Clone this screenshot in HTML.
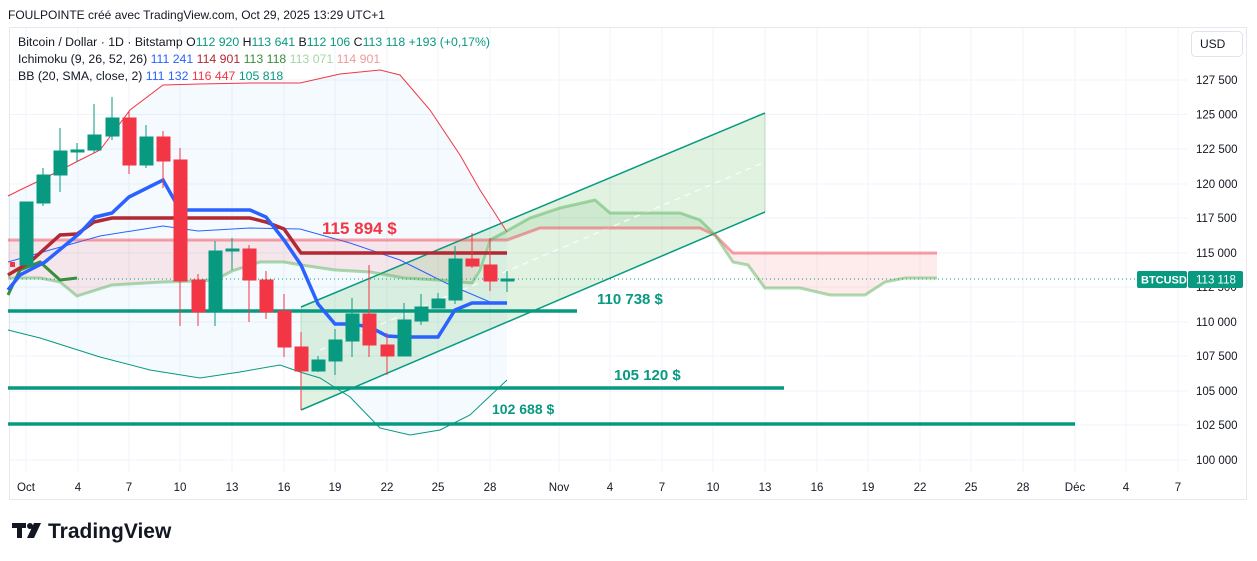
<!DOCTYPE html>
<html><head><meta charset="utf-8"><style>
body{margin:0;background:#fff;width:1257px;height:561px;overflow:hidden;font-family:"Liberation Sans",sans-serif}
svg{display:block}
</style></head><body>
<svg width="1257" height="561" xmlns="http://www.w3.org/2000/svg" font-family="Liberation Sans, sans-serif">
<text x="8" y="19" font-size="12" fill="#131722">FOULPOINTE créé avec TradingView.com, Oct 29, 2025 13:29 UTC+1</text>
<rect x="9.5" y="27.5" width="1237" height="472" fill="#fff" stroke="#e6e8ee"/>
<g stroke="#f0f3fa" stroke-width="1">
<path d="M10 80H1187M10 114.5H1187M10 149H1187M10 184H1187M10 218H1187M10 253H1187M10 287H1187M10 322H1187M10 356H1187M10 391H1187M10 425H1187M10 460H1187"/>
<path d="M26 28V472M78 28V472M129 28V472M180 28V472M232 28V472M284 28V472M335 28V472M387 28V472M438 28V472M490 28V472M559 28V472M610 28V472M662 28V472M713 28V472M765 28V472M817 28V472M868 28V472M920 28V472M971 28V472M1023 28V472M1075 28V472M1126 28V472M1178 28V472"/>
</g>
<polygon fill="rgba(33,150,243,0.05)" points="8,196 20,190 45,178 80,160 100,150 130,110 163,85 200,84 250,83 300,83 340,74 380,70 400,75 430,110 460,155 480,190 507,232 507,380 470,415 440,430 410,435 380,428 350,397 320,378 300,372 280,365 240,372 200,378 150,370 100,357 40,338 8,330"/>
<polygon fill="rgba(242,54,69,0.1)" points="8,278 40,278 60,282 77,296 112,285 163,282 198,281 215,280 232,271 260,262 284,262 301,265 335,270 370,272 404,278 438,280 472,283 488,240 8,240"/>
<polygon fill="rgba(76,175,80,0.12)" points="488,240 505,232 530,218 560,208 595,200 610,213 680,213 700,220 712,230 700,228 540,228 507,240"/>
<polygon fill="rgba(242,54,69,0.1)" points="712,230 715,235 733,262 748,265 765,288 800,288 830,295 865,295 885,282 905,278 937,278 937,253 733,253 715,235"/>
<polygon fill="rgba(76,175,80,0.17)" points="301,307 765,113 765,212 301,410"/>
<path d="M301,307L765,113M301,410L765,212" stroke="#089981" stroke-width="1.5"/>
<path d="M301,307V410M765,113V212" stroke="rgba(76,175,80,0.3)" stroke-width="1"/>
<path d="M320,350L765,162" stroke="#fff" stroke-width="1.2" stroke-dasharray="6,5" opacity="0.9"/>
<polyline fill="none" stroke="#f23645" stroke-width="1" points="8,196 20,190 45,178 80,160 100,150 130,110 163,85 200,84 250,83 300,83 340,74 380,70 400,75 430,110 460,155 480,190 507,232"/>
<polyline fill="none" stroke="#089981" stroke-width="1" points="8,330 40,338 100,357 150,370 200,378 240,372 280,365 300,372 320,378 350,397 380,428 410,435 440,430 470,415 507,380"/>
<polyline fill="none" stroke="#2962ff" stroke-width="1" points="8,262 50,250 100,236 163,226 198,231 250,228 300,229 350,243 400,260 450,285 490,302 507,303"/>
<polyline fill="none" stroke="rgba(242,54,69,0.45)" stroke-width="3" points="8,240 507,240 540,228 700,228 715,235 733,253 937,253"/>
<polyline fill="none" stroke="rgba(76,175,80,0.45)" stroke-width="3" points="8,278 40,278 60,282 77,296 112,285 163,282 198,281 215,280 232,271 260,262 284,262 301,265 335,270 370,272 404,278 438,280 472,283 480,270 490,240 505,232 530,218 560,208 595,200 610,213 680,213 700,220 715,235 733,262 748,265 765,288 800,288 830,295 865,295 885,282 905,278 937,278"/>
<path d="M8,311H577M8,388H784M8,424H1075" stroke="#089981" stroke-width="3.5"/>
<path d="M10,279H1187" stroke="#089981" stroke-width="1" stroke-dasharray="1,3"/>
<polyline fill="none" stroke="#388e3c" stroke-width="3" points="8,295 20,270 40,262 60,280 77,278"/>
<polyline fill="none" stroke="#b22833" stroke-width="3.5" points="8,275 30,262 60,235 77,234 94,222 112,218 250,218 266,222 284,229 301,253 507,253"/>
<polyline fill="none" stroke="#2962ff" stroke-width="3.5" points="8,290 20,275 45,262 80,233 95,217 112,213 129,197 163,180 180,210 250,210 266,217 284,240 301,265 318,304 335,324 352,324 370,327 387,336 404,337 438,337 455,310 472,303 507,303"/>
<g stroke-width="1">
<g fill="#089981" stroke="#089981">
<line x1="26" y1="202" x2="26" y2="265"/><rect x="20" y="202" width="13" height="63"/>
<line x1="43" y1="168" x2="43" y2="206"/><rect x="37" y="175" width="13" height="28"/>
<line x1="60" y1="128" x2="60" y2="192"/><rect x="54" y="151" width="13" height="24"/>
<line x1="77" y1="143" x2="77" y2="162"/><rect x="71" y="150" width="13" height="2"/>
<line x1="94" y1="104" x2="94" y2="153"/><rect x="88" y="135" width="13" height="15"/>
<line x1="112" y1="97" x2="112" y2="140"/><rect x="106" y="118" width="13" height="18"/>
<line x1="146" y1="125" x2="146" y2="168"/><rect x="140" y="137" width="13" height="28"/>
<line x1="215" y1="241" x2="215" y2="326"/><rect x="209" y="251" width="13" height="61"/>
<line x1="232" y1="238" x2="232" y2="270"/><rect x="226" y="249" width="13" height="2"/>
<line x1="318" y1="356" x2="318" y2="372"/><rect x="312" y="360" width="13" height="11"/>
<line x1="335" y1="329" x2="335" y2="375"/><rect x="329" y="340" width="13" height="21"/>
<line x1="352" y1="298" x2="352" y2="357"/><rect x="346" y="314" width="13" height="27"/>
<line x1="404" y1="303" x2="404" y2="356"/><rect x="398" y="320" width="13" height="36"/>
<line x1="421" y1="294" x2="421" y2="325"/><rect x="415" y="307" width="13" height="14"/>
<line x1="438" y1="293" x2="438" y2="308"/><rect x="432" y="299" width="13" height="9"/>
<line x1="455" y1="246" x2="455" y2="304"/><rect x="449" y="259" width="13" height="41"/>
<line x1="507" y1="271" x2="507" y2="292"/><rect x="501" y="279" width="13" height="2"/>
</g>
<g fill="#f23645" stroke="#f23645">
<line x1="129" y1="111" x2="129" y2="174"/><rect x="123" y="118" width="13" height="47"/>
<line x1="163" y1="131" x2="163" y2="188"/><rect x="157" y="137" width="13" height="24"/>
<line x1="180" y1="148" x2="180" y2="326"/><rect x="174" y="160" width="13" height="121"/>
<line x1="198" y1="274" x2="198" y2="326"/><rect x="192" y="280" width="13" height="32"/>
<line x1="249" y1="245" x2="249" y2="322"/><rect x="243" y="249" width="13" height="31"/>
<line x1="266" y1="271" x2="266" y2="319"/><rect x="260" y="280" width="13" height="32"/>
<line x1="284" y1="294" x2="284" y2="357"/><rect x="278" y="311" width="13" height="36"/>
<line x1="301" y1="332" x2="301" y2="410"/><rect x="295" y="347" width="13" height="24"/>
<line x1="369" y1="265" x2="369" y2="357"/><rect x="363" y="314" width="13" height="31"/>
<line x1="387" y1="333" x2="387" y2="375"/><rect x="381" y="345" width="13" height="11"/>
<line x1="472" y1="233" x2="472" y2="268"/><rect x="466" y="259" width="13" height="7"/>
<line x1="490" y1="238" x2="490" y2="291"/><rect x="484" y="265" width="13" height="16"/>
</g>
<rect x="10" y="262" width="5" height="5" fill="#f23645"/>
</g>
<g font-size="15" font-weight="bold">
<text x="322" y="234" fill="#f23645" font-size="17">115 894 $</text>
<text x="597" y="304" fill="#089981">110 738 $</text>
<text x="614" y="380" fill="#089981">105 120 $</text>
<text x="492" y="414" fill="#089981" font-size="14">102 688 $</text>
</g>
<g font-size="12.3">
<text x="18" y="46" fill="#131722">Bitcoin / Dollar · 1D · Bitstamp <tspan>O</tspan><tspan fill="#089981">112 920</tspan> H<tspan fill="#089981">113 641</tspan> B<tspan fill="#089981">112 106</tspan> C<tspan fill="#089981">113 118</tspan> <tspan fill="#089981">+193 (+0,17%)</tspan></text>
<text x="18" y="63" fill="#131722">Ichimoku (9, 26, 52, 26) <tspan fill="#2962ff">111 241</tspan> <tspan fill="#b22833">114 901</tspan> <tspan fill="#388e3c">113 118</tspan> <tspan fill="#a5d6a7">113 071</tspan> <tspan fill="#ef9a9a">114 901</tspan></text>
<text x="18" y="80" fill="#131722">BB (20, SMA, close, 2) <tspan fill="#2962ff">111 132</tspan> <tspan fill="#f23645">116 447</tspan> <tspan fill="#089981">105 818</tspan></text>
</g>
<rect x="1191.5" y="31.5" width="51" height="25" rx="4" fill="#fff" stroke="#e0e3eb"/>
<text x="1200" y="48" font-size="12" fill="#131722">USD</text>
<g font-size="11.5" fill="#131722">
<text x="1196" y="84">127 500</text><text x="1196" y="118.5">125 000</text><text x="1196" y="153">122 500</text><text x="1196" y="188">120 000</text><text x="1196" y="222">117 500</text><text x="1196" y="257">115 000</text><text x="1196" y="291">112 500</text><text x="1196" y="326">110 000</text><text x="1196" y="360">107 500</text><text x="1196" y="395">105 000</text><text x="1196" y="429">102 500</text><text x="1196" y="464">100 000</text>
</g>
<rect x="1137" y="271" width="50" height="17" rx="2" fill="#089981"/>
<text x="1141" y="283.5" font-size="11" fill="#fff" font-weight="bold">BTCUSD</text>
<rect x="1188" y="271" width="55" height="17" rx="2" fill="#089981"/>
<text x="1196" y="283.5" font-size="11.5" fill="#fff">113 118</text>
<g font-size="11.5" fill="#131722" text-anchor="middle">
<text x="26" y="491">Oct</text><text x="78" y="491">4</text><text x="129" y="491">7</text><text x="180" y="491">10</text><text x="232" y="491">13</text><text x="284" y="491">16</text><text x="335" y="491">19</text><text x="387" y="491">22</text><text x="438" y="491">25</text><text x="490" y="491">28</text><text x="559" y="491">Nov</text><text x="610" y="491">4</text><text x="662" y="491">7</text><text x="713" y="491">10</text><text x="765" y="491">13</text><text x="817" y="491">16</text><text x="868" y="491">19</text><text x="920" y="491">22</text><text x="971" y="491">25</text><text x="1023" y="491">28</text><text x="1075" y="491">Déc</text><text x="1126" y="491">4</text><text x="1178" y="491">7</text>
</g>
<g fill="#131722">
<rect x="12" y="523" width="14" height="5"/><rect x="17" y="523" width="5" height="15"/>
<circle cx="30" cy="526" r="3"/><polygon points="34,523 41,523 34,538 27,538"/>
</g>
<text x="48" y="538" font-size="21" font-weight="bold" fill="#131722">TradingView</text>
</svg>
</body></html>
